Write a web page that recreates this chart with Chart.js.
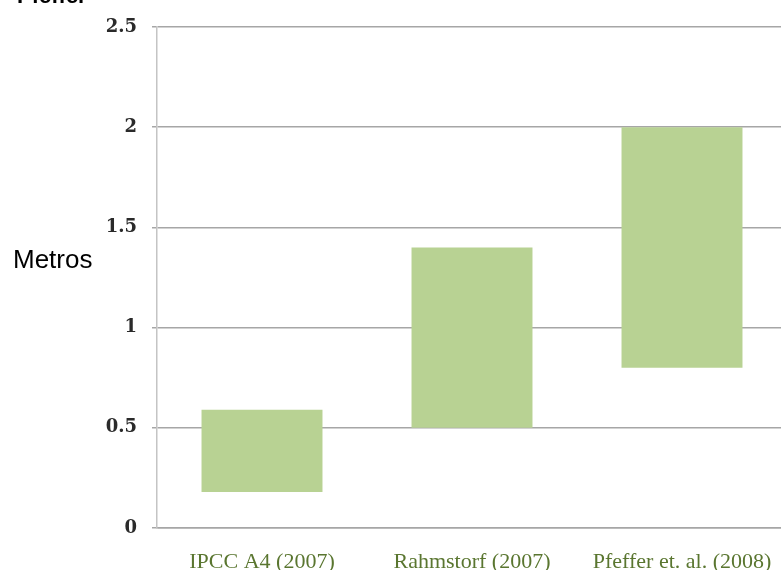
<!DOCTYPE html>
<html>
<head>
<meta charset="utf-8">
<script src="https://cdn.jsdelivr.net/npm/chart.js@4/dist/chart.umd.min.js"></script>
<style>
  html, body { margin: 0; padding: 0; background: #ffffff; overflow: hidden; width: 781px; height: 570px; }
  #wrap { position: relative; width: 800px; height: 570px; }
  #c { position: absolute; left: 0; top: 0; }
  .lbl { position: absolute; white-space: nowrap; color: #000; font-family: "Liberation Sans", Arial, sans-serif; }
  #title { left: 17px; top: -15px; font-size: 22px; line-height: 22px; font-weight: bold; }
  #ytitle { left: 13px; top: 246px; font-size: 26px; line-height: 26px; }
</style>
</head>
<body>
<div id="wrap">
  <canvas id="c" width="800" height="570"></canvas>
  <div class="lbl" id="title">Pfeffer</div>
  <div class="lbl" id="ytitle">Metros</div>
</div>
<script>
const categories = ["IPCC A4 (2007)", "Rahmstorf (2007)", "Pfeffer et. al. (2008)"];
const lowValues = [0.18, 0.5, 0.8];
const highValues = [0.59, 1.4, 2.0];
const yTickLabels = ["0", "0.5", "1", "1.5", "2", "2.5"];

const ranges = categories.map((c, i) => [lowValues[i], highValues[i]]);

new Chart(document.getElementById('c'), {
  type: 'bar',
  data: {
    labels: categories,
    datasets: [{
      data: ranges,
      backgroundColor: '#b8d293',
      borderWidth: 0,
      barPercentage: 0.576,
      categoryPercentage: 1.0
    }]
  },
  options: {
    responsive: false,
    animation: false,
    layout: { padding: { left: 0, right: 13, top: 27, bottom: 0 } },
    plugins: { legend: { display: false }, tooltip: { enabled: false }, title: { display: false } },
    scales: {
      x: {
        grid: { display: false },
        border: { display: true, color: '#a6a6a6', width: 1.5 },
        ticks: {
          color: '#5a7630',
          font: { family: '"Liberation Serif", "Times New Roman", serif', size: 22 },
          padding: 13,
          maxRotation: 0,
          autoSkip: false
        },
        afterFit: (s) => { s.height = 42; }
      },
      y: {
        min: 0,
        max: 2.5,
        grid: { color: '#a6a6a6', lineWidth: 1.5, tickLength: 5, tickColor: '#a6a6a6' },
        border: { display: true, color: '#c4c4c4', width: 1.5 },
        ticks: {
          stepSize: 0.5,
          color: '#2a2a2a',
          font: { family: '"DejaVu Serif", serif', size: 18, weight: 'bold' },
          padding: 15,
          callback: (v, i) => yTickLabels[i]
        },
        afterFit: (s) => { s.width = 157; }
      }
    }
  }
});
</script>
</body>
</html>
